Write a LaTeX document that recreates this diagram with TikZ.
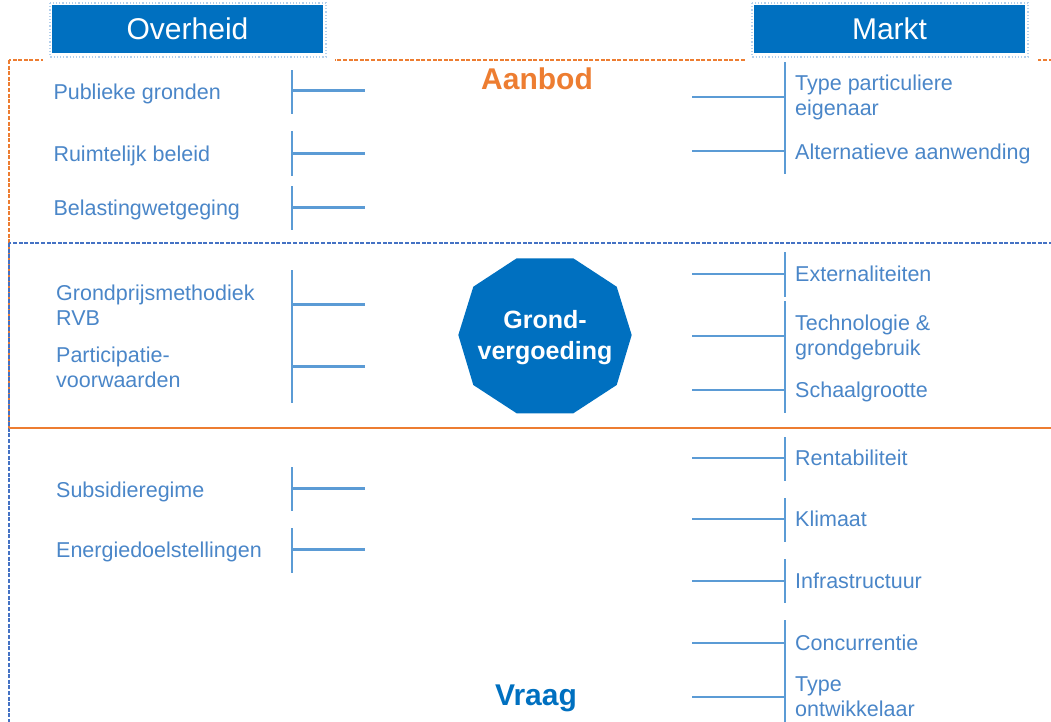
\documentclass[tikz,border=0pt]{standalone}
\usepackage{fontspec}
\setmainfont{Liberation Sans}
\definecolor{hdrblue}{HTML}{0070C0}
\definecolor{orng}{HTML}{ED7D31}
\definecolor{dashblue}{HTML}{4472C4}
\definecolor{lineblue}{HTML}{5B9BD5}
\definecolor{txtblue}{HTML}{4A86C8}
\definecolor{dotblue}{HTML}{B4D0EC}
\newcommand{\twolines}[2]{\begin{tabular}[t]{@{}l@{}}#1\\#2\end{tabular}}
\begin{document}
\begin{tikzpicture}[x=1pt,y=-1pt,
  odash/.style={draw=orng,line width=2.3pt,dash pattern=on 4pt off 1.6pt},
  bdash/.style={draw=dashblue,line width=2.3pt,dash pattern=on 4pt off 1.6pt},
  dotbox/.style={draw=dotblue,line width=1.2pt,dash pattern=on 1.2pt off 2pt},
  hdr/.style={fill=hdrblue,text=white,inner sep=0pt,minimum width=271pt,minimum height=48pt,font=\fontsize{30}{36}\selectfont},
  lbl/.style={text=txtblue,inner sep=0pt,anchor=base west,font=\fontsize{21.5}{25}\selectfont},
  brk/.style={draw=lineblue,line width=2.2pt},
  title/.style={inner sep=0pt,anchor=base,font=\fontsize{30}{36}\selectfont\bfseries}]
\useasboundingbox (0,0) rectangle (1051,721);
\clip (0,0) rectangle (1051,721);
% region frames
\draw[odash] (9,60) rectangle (1070,428);
\draw[bdash] (9,243) rectangle (1070,740);
\draw[odash] (9,428) -- (1070,428);
% header backgrounds
\fill[white] (43,0) rectangle (335,63);
\fill[white] (745,0) rectangle (1038,63);
\draw[dotbox] (50,3) rectangle (326,57);
\draw[dotbox] (752,3) rectangle (1028,57);
\node[hdr] (ov) at (187.5,29) {Overheid};
\node[hdr] (mk) at (889.5,29) {Markt};
% titles
\node[title,text=orng] (ab) at (537,89.3) {Aanbod};
\node[title,text=hdrblue] (vr) at (536,705) {Vraag};
% central decagon
\fill[hdrblue] (516.7,258.3) -- (573.3,258.3) -- (616.7,286.7) -- (631.7,335)
  -- (616.7,385) -- (573.3,413.3) -- (516.7,413.3) -- (473.3,385)
  -- (458.3,335) -- (473.3,286.7) -- cycle;
\node[text=white,align=center,inner sep=0pt,font=\fontsize{25}{31.7}\selectfont\bfseries] (gv) at (545,337.5) {Grond-\\vergoeding};
% left labels
\node[lbl] (l1) at (53.3,99) {Publieke gronden};
\node[lbl] (l2) at (53.3,161) {Ruimtelijk beleid};
\node[lbl] (l3) at (53.3,215) {Belastingwetgeging};
\node[lbl] (l4) at (56,300) {\twolines{Grondprijsmethodiek}{RVB}};
\node[lbl] (l5) at (56,362) {\twolines{Participatie-}{voorwaarden}};
\node[lbl] (l6) at (56,497.3) {Subsidieregime};
\node[lbl] (l7) at (56,557.7) {Energiedoelstellingen};
% right labels
\node[lbl] (r1) at (795,90.7) {\twolines{Type particuliere}{eigenaar}};
\node[lbl] (r2) at (795,159.3) {Alternatieve aanwending};
\node[lbl] (r3) at (795,281.7) {Externaliteiten};
\node[lbl] (r4) at (795,330) {\twolines{Technologie \&}{grondgebruik}};
\node[lbl] (r5) at (795,397.7) {Schaalgrootte};
\node[lbl] (r6) at (795,465.7) {Rentabiliteit};
\node[lbl] (r7) at (795,526.7) {Klimaat};
\node[lbl] (r8) at (795,588.3) {Infrastructuur};
\node[lbl] (r9) at (795,650) {Concurrentie};
\node[lbl] (r10) at (795,691.7) {\twolines{Type}{ontwikkelaar}};
% left brackets
\foreach \n/\ya/\yb/\yh in {1/70/114/90.5, 2/131/176/153.5, 3/186/230/207.5, 4/270/337/304.5, 5/337/403/366.5, 6/467/511/488.5, 7/528/573/549.5}{
  \coordinate (LT\n) at (292,\ya);
  \coordinate (LB\n) at (292,\yb);
  \coordinate (LH\n) at (292,\yh);
  \coordinate (LE\n) at (365,\yh);
  \draw[brk] (LT\n) -- (LB\n);
  \draw[brk] (LH\n) -- (LE\n);
}
% right brackets
\foreach \n/\ya/\yb/\yh in {1/62/131/97, 2/131/174/151, 3/252/297/274, 4/301/368/336, 5/368/413/390, 6/437/481/458, 7/498/542/519, 8/559/603/581, 9/620/663/643, 10/663/725/697}{
  \coordinate (RT\n) at (785,\ya);
  \coordinate (RB\n) at (785,\yb);
  \coordinate (RH\n) at (785,\yh);
  \coordinate (RE\n) at (692,\yh);
  \draw[brk] (RT\n) -- (RB\n);
  \draw[brk] (RH\n) -- (RE\n);
}
\end{tikzpicture}
\end{document}
